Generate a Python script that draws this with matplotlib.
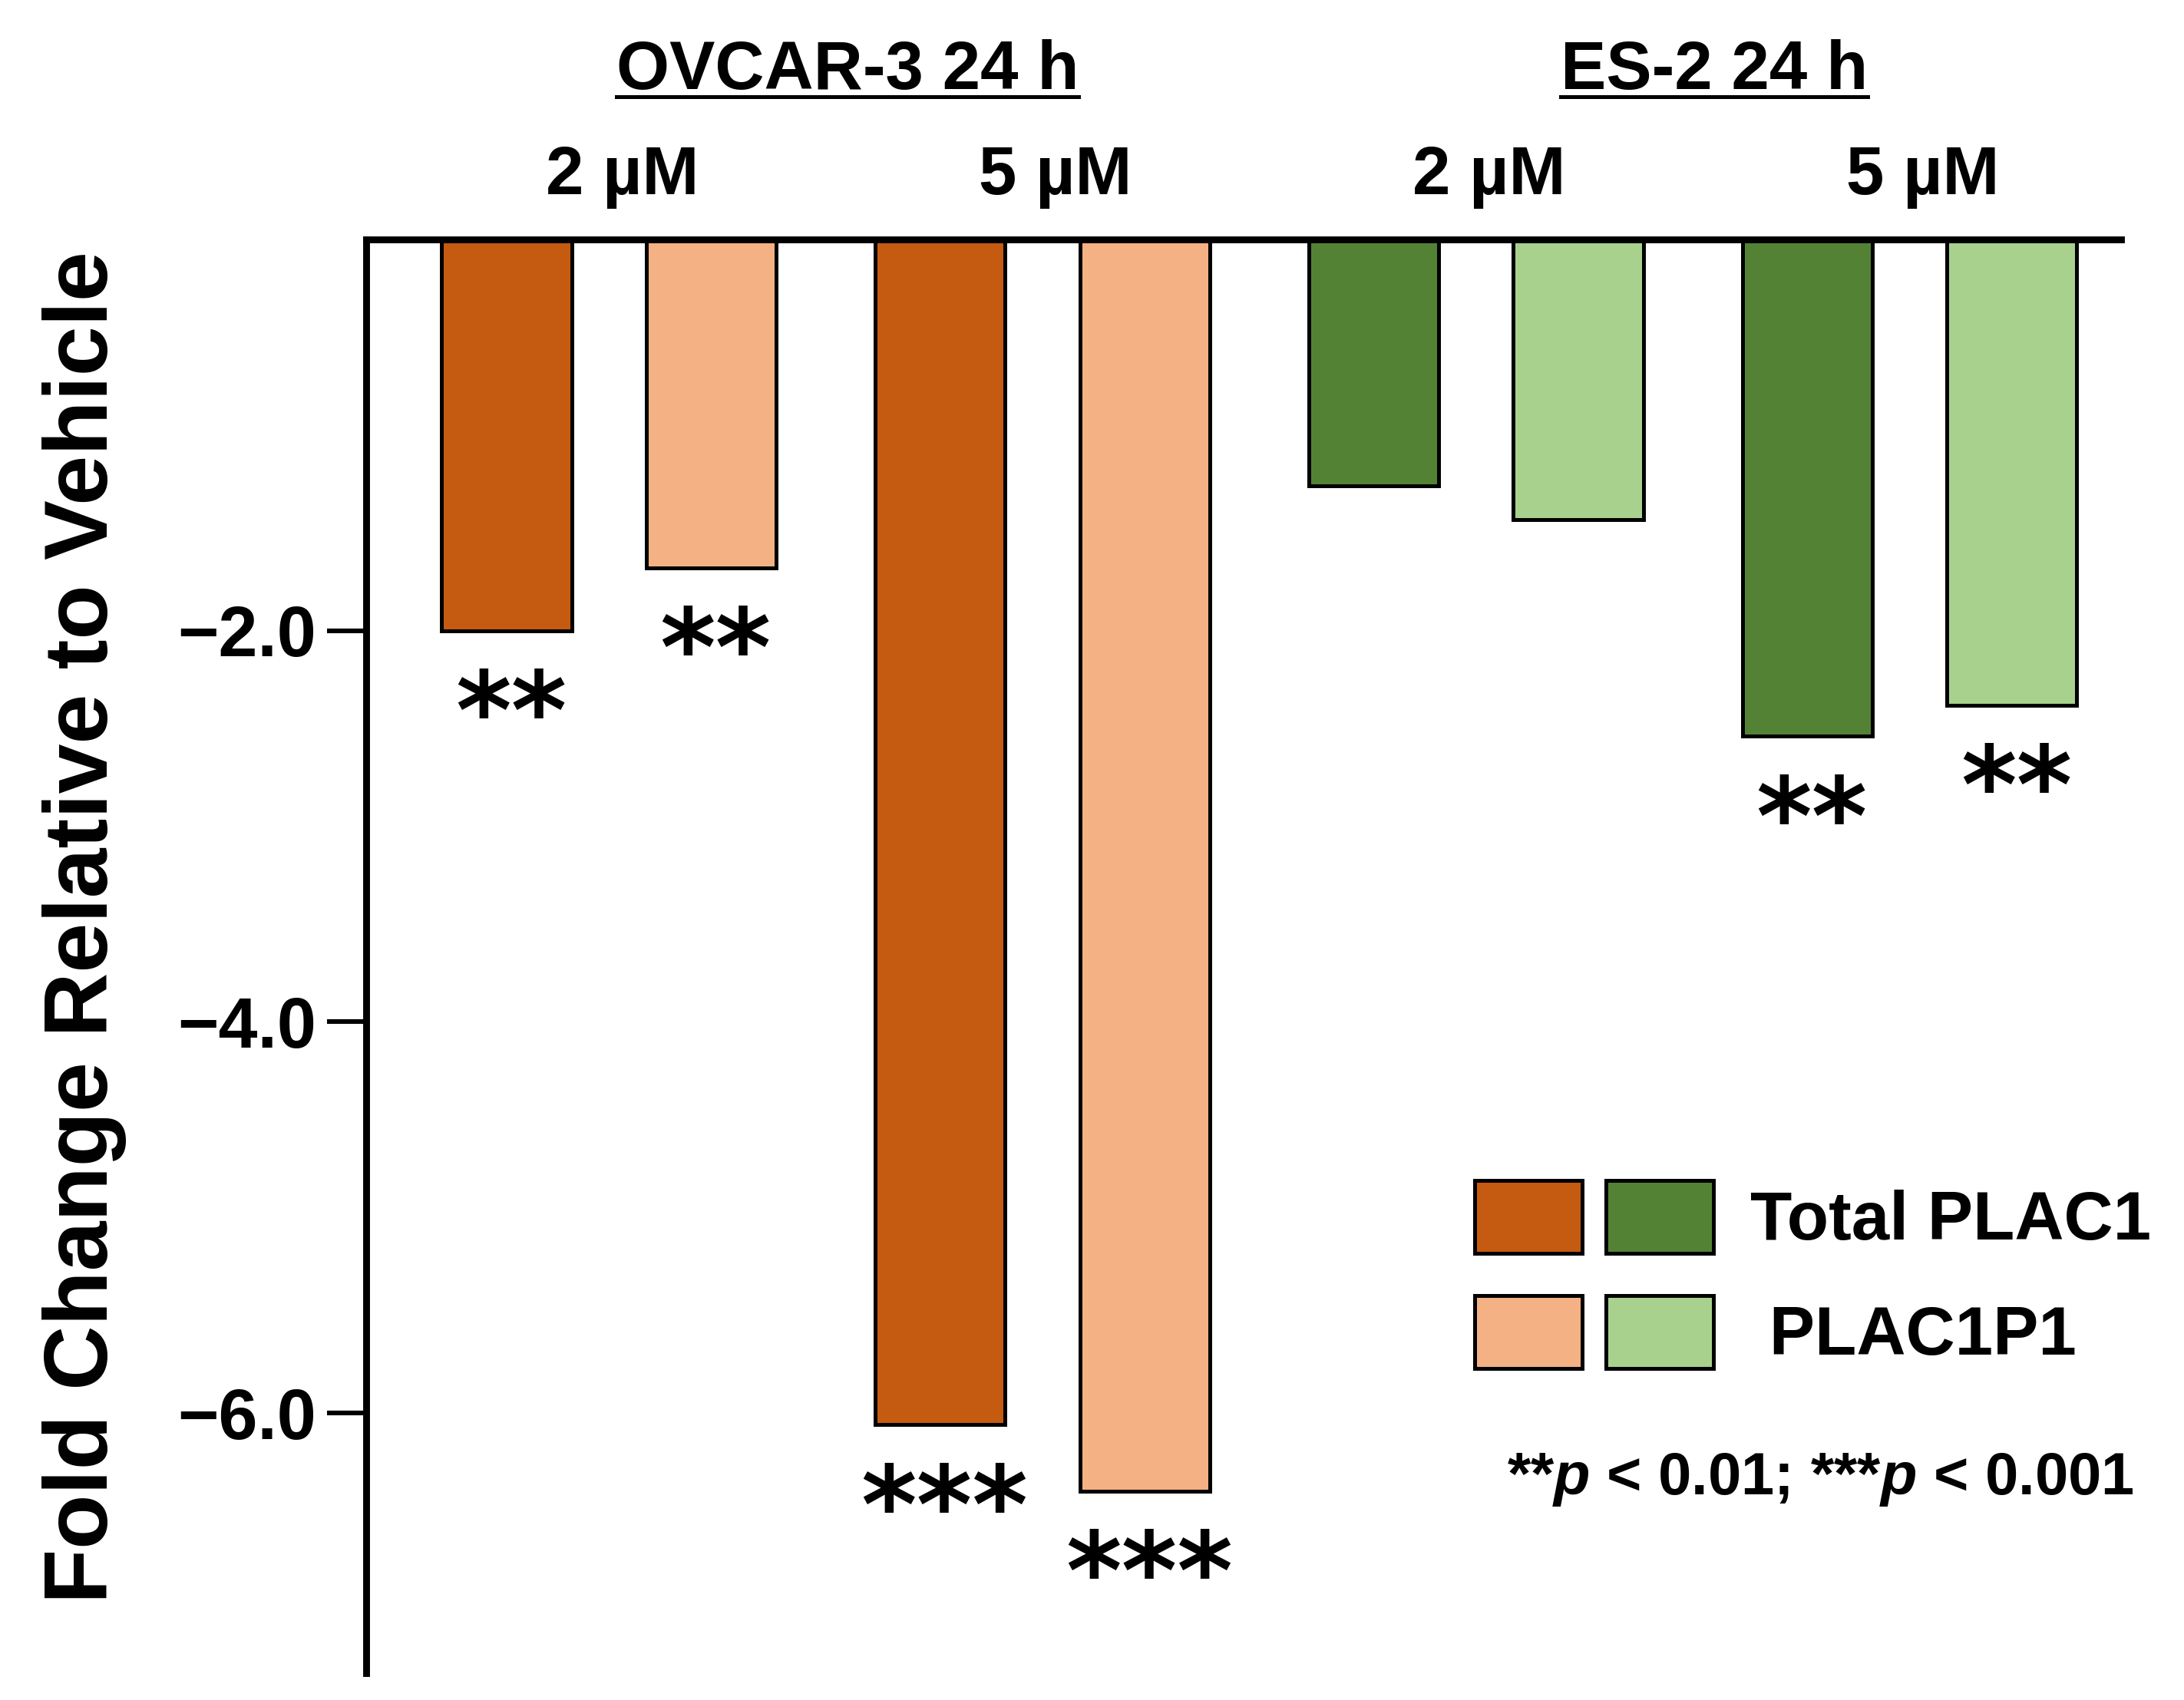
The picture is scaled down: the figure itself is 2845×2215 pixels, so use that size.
import numpy as np
import matplotlib
matplotlib.use("Agg")
import matplotlib.pyplot as plt
import matplotlib.transforms as mtransforms
from matplotlib.lines import Line2D
from matplotlib.legend_handler import HandlerTuple

plt.rcParams['font.family'] = ['Liberation Sans', 'DejaVu Sans']
plt.rcParams['font.weight'] = 'bold'
plt.rcParams['mathtext.fontset'] = 'custom'
plt.rcParams['mathtext.it'] = 'Liberation Sans:italic:bold'
plt.rcParams['mathtext.rm'] = 'Liberation Sans:bold'

# values (fold change relative to vehicle)
cell_lines = ["OVCAR-3 24 h", "ES-2 24 h"]
doses = ["2 µM", "5 µM", "2 µM", "5 µM"]
total_plac1 = [-2.00, -6.06, -1.26, -2.54]
plac1p1 = [-1.68, -6.40, -1.43, -2.38]
sig_total = ["**", "***", "", "**"]
sig_p1 = ["**", "***", "", "**"]
yticks = [-2.0, -4.0, -6.0]
ytick_labels = ["\u22122.0", "\u22124.0", "\u22126.0"]
series_names = ["Total PLAC1", " PLAC1P1"]

dark_colors = ["#C55A11", "#C55A11", "#548235", "#548235"]
light_colors = ["#F4B183", "#F4B183", "#A9D18E", "#A9D18E"]

fig = plt.figure(figsize=(14.225, 11.075), dpi=200)
ax = fig.add_axes([0.1677, 0.0158, 0.8035, 0.8433])

x = np.arange(len(doses))
off = 0.236
w = 0.30
bars_dark = ax.bar(x - off, total_plac1, w, color=dark_colors, edgecolor='black', linewidth=1.8, zorder=2)
bars_light = ax.bar(x + off, plac1p1, w, color=light_colors, edgecolor='black', linewidth=1.8, zorder=2)

# significance stars under each bar
for xs, vals, sigs in [(x - off, total_plac1, sig_total), (x + off, plac1p1, sig_p1)]:
    for xi, v, s in zip(xs, vals, sigs):
        if s:
            ax.annotate(s, (xi, v), xytext=(2, -17), textcoords='offset points',
                        ha='center', va='top', fontsize=50, family='DejaVu Sans',
                        fontweight='bold')

ax.set_xlim(-0.560, 3.488)
ax.set_ylim(-7.33, 0)
ax.set_yticks(yticks)
ax.set_yticklabels(ytick_labels)
ax.set_xticks([])
ax.tick_params(axis='y', direction='out', length=18.5, width=2.2, pad=5, labelsize=33)
for lab in ax.get_yticklabels():
    lab.set_fontweight('bold')

for side in ['bottom', 'right']:
    ax.spines[side].set_visible(False)
for side in ['left', 'top']:
    ax.spines[side].set_linewidth(3.2)
ax.spines['top'].set_zorder(3)

fig.text(0.0387, 0.4546, "Fold Change Relative to Vehicle", rotation=90,
         ha='center', va='center', fontsize=42, fontweight='bold')

# group headers and dose labels
trans = mtransforms.blended_transform_factory(ax.transData, fig.transFigure)
titles = []
for i, name in enumerate(cell_lines):
    xc = x[2 * i:2 * i + 2].mean() + 0.05
    titles.append(ax.text(xc, 0.958, name, transform=trans, ha='center', va='center',
                          fontsize=32, fontweight='bold'))
for xi, d in zip(x, doses):
    ax.text(xi + 0.03, 0.896, d, transform=trans, ha='center', va='center',
            fontsize=32, fontweight='bold')

# legend: two colour swatches per row
handles = [(bars_dark[0], bars_dark[2]), (bars_light[0], bars_light[2])]
leg = fig.legend(handles, series_names,
                 handler_map={tuple: HandlerTuple(ndivide=None, pad=0.35)},
                 loc='upper left', bbox_to_anchor=(1921 / 2845, 1 - 1538 / 2215),
                 bbox_transform=fig.transFigure, frameon=False, borderpad=0,
                 borderaxespad=0, handlelength=3.5, handleheight=1.27,
                 labelspacing=0.6, handletextpad=0.54,
                 prop={'weight': 'bold', 'size': 32})

fig.text(0.8335, 0.1296, r"**$p$ < 0.01; ***$p$ < 0.001", ha='center', va='center',
         fontsize=28, fontweight='bold')

# underline the cell line headers
fig.canvas.draw()
W, H = fig.canvas.get_width_height()
for t in titles:
    bb = t.get_window_extent()
    fig.add_artist(Line2D([bb.x0 / W, bb.x1 / W], [0.943, 0.943],
                          transform=fig.transFigure, color='black', linewidth=1.8))

fig.savefig("out.png", dpi=200, facecolor='white')
